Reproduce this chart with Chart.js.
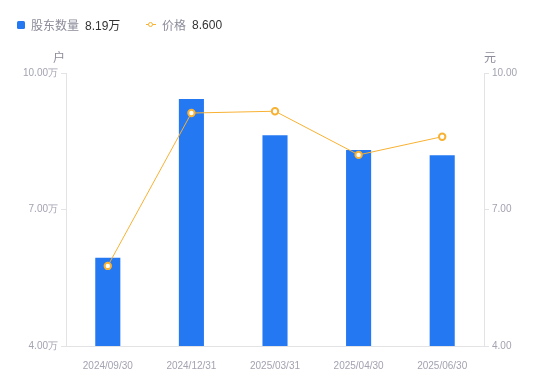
<!DOCTYPE html>
<html>
<head>
  <meta charset="utf-8">
  <title>股东数量与价格</title>
  <script src="https://cdn.jsdelivr.net/npm/chart.js"></script>
  <style>
    body { margin: 0; background: #fff; font-family: "Liberation Sans", "Noto Sans CJK SC", sans-serif; }
    #wrap { position: relative; width: 550px; height: 381px; }
    .legend { position: absolute; top: 16px; left: 17px; font-size: 12px; color: #8c8c9a; white-space: nowrap; }
    .legend span { display: inline-block; vertical-align: middle; }
    .legend .val { color: #333; margin-left: 6px; }
    .sq { width: 8px; height: 8px; background: #2478f2; border-radius: 1.5px; margin-right: 6px; }
    .ln { position: relative; width: 10px; height: 8px; margin-right: 6px; }
    .ln:before { content: ""; position: absolute; left: 0; right: 0; top: 3.5px; height: 1px; background: #f8b132; }
    .ln:after { content: ""; position: absolute; left: 2px; top: 1px; width: 3px; height: 3px; border: 1.5px solid #f8b132; border-radius: 50%; background: #fff; }
    .unit { position: absolute; top: 48px; font-size: 12px; color: #8c8c9a; }
  </style>
</head>
<body>
<div id="wrap">
  <canvas id="myChart" width="550" height="381"></canvas>
  <div class="legend">
    <span class="sq"></span><span>股东数量</span><span class="val" id="v1"></span>
    <span style="width:19px"></span>
    <span class="ln"></span><span>价格</span><span class="val" id="v2"></span>
  </div>
  <div class="unit" style="left:53px">户</div>
  <div class="unit" style="left:484px">元</div>
</div>
<script>
const dates = ['2024/09/30', '2024/12/31', '2025/03/31', '2025/04/30', '2025/06/30'];
const holders = [5.94, 9.43, 8.63, 8.31, 8.19];   // 万户
const price = [5.76, 9.12, 9.16, 8.20, 8.60];     // 元
const leftTicks = [4, 7, 10];
const rightTicks = [4, 7, 10];

document.getElementById('v1').textContent = holders[holders.length - 1].toFixed(2) + '万';
document.getElementById('v2').textContent = price[price.length - 1].toFixed(3);

const gray = '#a3a3b1';
const lineGray = '#e3e3e6';

const ctx = document.getElementById('myChart').getContext('2d');
new Chart(ctx, {
  data: {
    labels: dates,
    datasets: [{
      type: 'line',
      label: '价格',
      data: price,
      yAxisID: 'y1',
      borderColor: '#f8b132',
      borderWidth: 1,
      pointRadius: 3.2,
      pointBorderWidth: 2,
      pointBackgroundColor: '#fff',
      pointBorderColor: '#f8b132',
      tension: 0,
      order: 0
    }, {
      type: 'bar',
      label: '股东数量',
      data: holders,
      yAxisID: 'y',
      backgroundColor: '#2478f2',
      barPercentage: 0.3,
      categoryPercentage: 1,
      order: 1
    }]
  },
  options: {
    responsive: false,
    animation: false,
    layout: { padding: { top: 73, left: 0, right: 0, bottom: 0 } },
    plugins: { legend: { display: false }, tooltip: { enabled: false } },
    scales: {
      x: {
        grid: { display: false },
        border: { display: true, color: lineGray },
        ticks: { color: gray, font: { size: 10 }, padding: 6, maxRotation: 0 },
        afterFit: s => { s.height = 35; }
      },
      y: {
        position: 'left',
        min: 4, max: 10,
        afterBuildTicks: s => { s.ticks = leftTicks.map(v => ({ value: v })); },
        grid: { drawOnChartArea: false, drawTicks: true, tickLength: 5, color: lineGray },
        border: { display: true, color: lineGray },
        ticks: { color: gray, font: { size: 10 }, padding: 3, callback: v => v.toFixed(2) + '万' },
        afterFit: s => { s.width = 66; }
      },
      y1: {
        position: 'right',
        min: 4, max: 10,
        afterBuildTicks: s => { s.ticks = rightTicks.map(v => ({ value: v })); },
        grid: { drawOnChartArea: false, drawTicks: true, tickLength: 5, color: lineGray },
        border: { display: true, color: lineGray },
        ticks: { color: gray, font: { size: 10 }, padding: 3, callback: v => v.toFixed(2) },
        afterFit: s => { s.width = 66; }
      }
    }
  }
});
</script>
</body>
</html>
